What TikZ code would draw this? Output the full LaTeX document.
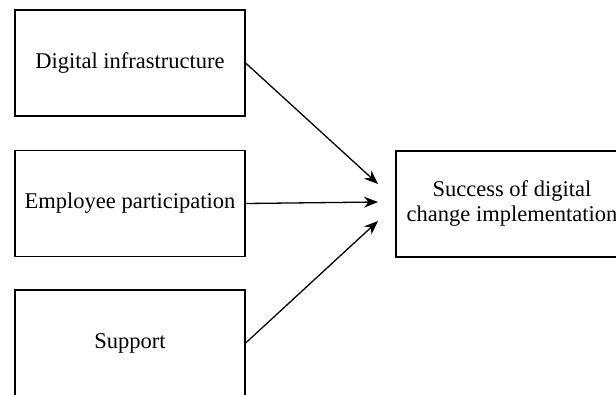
\documentclass[tikz,border=0pt]{standalone}
\usepackage{fontspec}
\setmainfont{Liberation Serif}
\usetikzlibrary{arrows.meta}
\tikzset{
  factor/.style={draw,line width=1.3pt,minimum width=230pt,minimum height=106pt,
    align=center,font=\fontsize{22.5}{25}\selectfont,inner sep=0pt},
  link/.style={line width=1.3pt,-{Stealth[length=14pt,width=11pt]}}
}
\begin{document}
\begin{tikzpicture}[x=1pt,y=-1pt]
      \useasboundingbox (0,0) rectangle (616,394);
      \node[factor] (infra) at (130,63) {Digital infrastructure};
      \node[factor] (emp) at (130,203.5) {Employee participation};
      \node[factor] (sup) at (130,343) {Support};
      \node[factor,minimum width=232pt] (succ) at (512,204) {Success of digital\\change implementation};
      \coordinate (t1) at (378,184);
      \coordinate (t2) at (378,202);
      \coordinate (t3) at (378,221);
      \begin{scope}[link]
        \draw (infra.east) to (t1);
        \draw (emp.east) to (t2);
        \draw (sup.east) to (t3);
      \end{scope}
    \end{tikzpicture}
\end{document}
